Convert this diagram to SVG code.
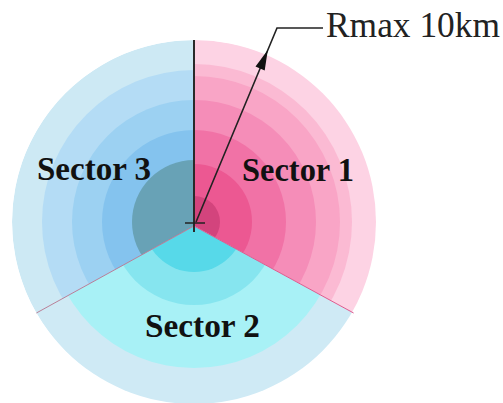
<svg xmlns="http://www.w3.org/2000/svg" width="503" height="403" viewBox="0 0 503 403">
  <style>
    .lbl { font-family: "Liberation Serif", "Times New Roman", serif; font-weight: bold; font-size: 33px; fill: #111; }
    .rmax { font-family: "Liberation Serif", "Times New Roman", serif; font-size: 35px; fill: #222; }
    .edge { fill: none; stroke: #222; }
  </style>
  <defs>
    <clipPath id="c1"><path d="M194,226 L194,40 A182,182 0 0 1 353.6,313 Z"/></clipPath>
    <clipPath id="c2"><path d="M194,226 L353.6,313 A182,182 0 0 1 36.4,313 Z"/></clipPath>
    <clipPath id="c3"><path d="M194,226 L36.4,313 A182,182 0 0 1 194,40 Z"/></clipPath>
  </defs>
  <rect width="503" height="403" fill="#ffffff"/>

  <g id="sector1" clip-path="url(#c1)">
    <circle cx="194" cy="222" r="182" fill="#fdd3e4"/>
    <circle cx="194" cy="222" r="158" fill="#fbbad3"/>
    <circle cx="194" cy="222" r="146" fill="#f9a5c6"/>
    <circle cx="194" cy="222" r="122" fill="#f58db8"/>
    <circle cx="194" cy="222" r="92" fill="#f172a6"/>
    <circle cx="194" cy="222" r="58" fill="#ec5892"/>
    <circle cx="194" cy="222" r="26" fill="#d3447d"/>
  </g>
  <g id="sector2" clip-path="url(#c2)">
    <circle cx="194" cy="222" r="182" fill="#cfeaf5"/>
    <circle cx="194" cy="222" r="146" fill="#a8f1f6"/>
    <circle cx="194" cy="222" r="83" fill="#86e5ef"/>
    <circle cx="194" cy="222" r="50" fill="#57d9e9"/>
  </g>
  <g id="sector3" clip-path="url(#c3)">
    <circle cx="194" cy="222" r="182" fill="#cde9f4"/>
    <circle cx="194" cy="222" r="152" fill="#b4dcf5"/>
    <circle cx="194" cy="222" r="122" fill="#9cd1f2"/>
    <circle cx="194" cy="222" r="92" fill="#84c3ee"/>
    <circle cx="194" cy="222" r="62" fill="#68a2b6"/>
  </g>

  <g id="boundaries">
    <line x1="194" y1="226" x2="36.4" y2="313" stroke="#b88098" stroke-width="1"/>
    <line x1="194" y1="226" x2="353.6" y2="313" stroke="#e05a8e" stroke-width="1"/>
    <line x1="194" y1="40" x2="194" y2="232" stroke="#2a2a2a" stroke-width="2"/>
    <line x1="185" y1="223" x2="205" y2="223" stroke="#222" stroke-width="1.5"/>
  </g>

  <g id="labels">
    <text class="lbl" x="37" y="180" textLength="114" lengthAdjust="spacingAndGlyphs">Sector 3</text>
    <text class="lbl" x="242" y="181" textLength="112" lengthAdjust="spacingAndGlyphs">Sector 1</text>
    <text class="lbl" x="145" y="337" textLength="115" lengthAdjust="spacingAndGlyphs">Sector 2</text>
  </g>

  <g id="connectors">
    <path class="edge" d="M196,222 L277,28 L323,28" stroke-width="1.6"/>
    <polygon points="267.8,50 264.7,70.4 255.5,66.6" fill="#111"/>
  </g>

  <g id="rmax-label">
    <text class="rmax" x="326" y="37" textLength="174" lengthAdjust="spacingAndGlyphs">Rmax 10km</text>
  </g>
</svg>
